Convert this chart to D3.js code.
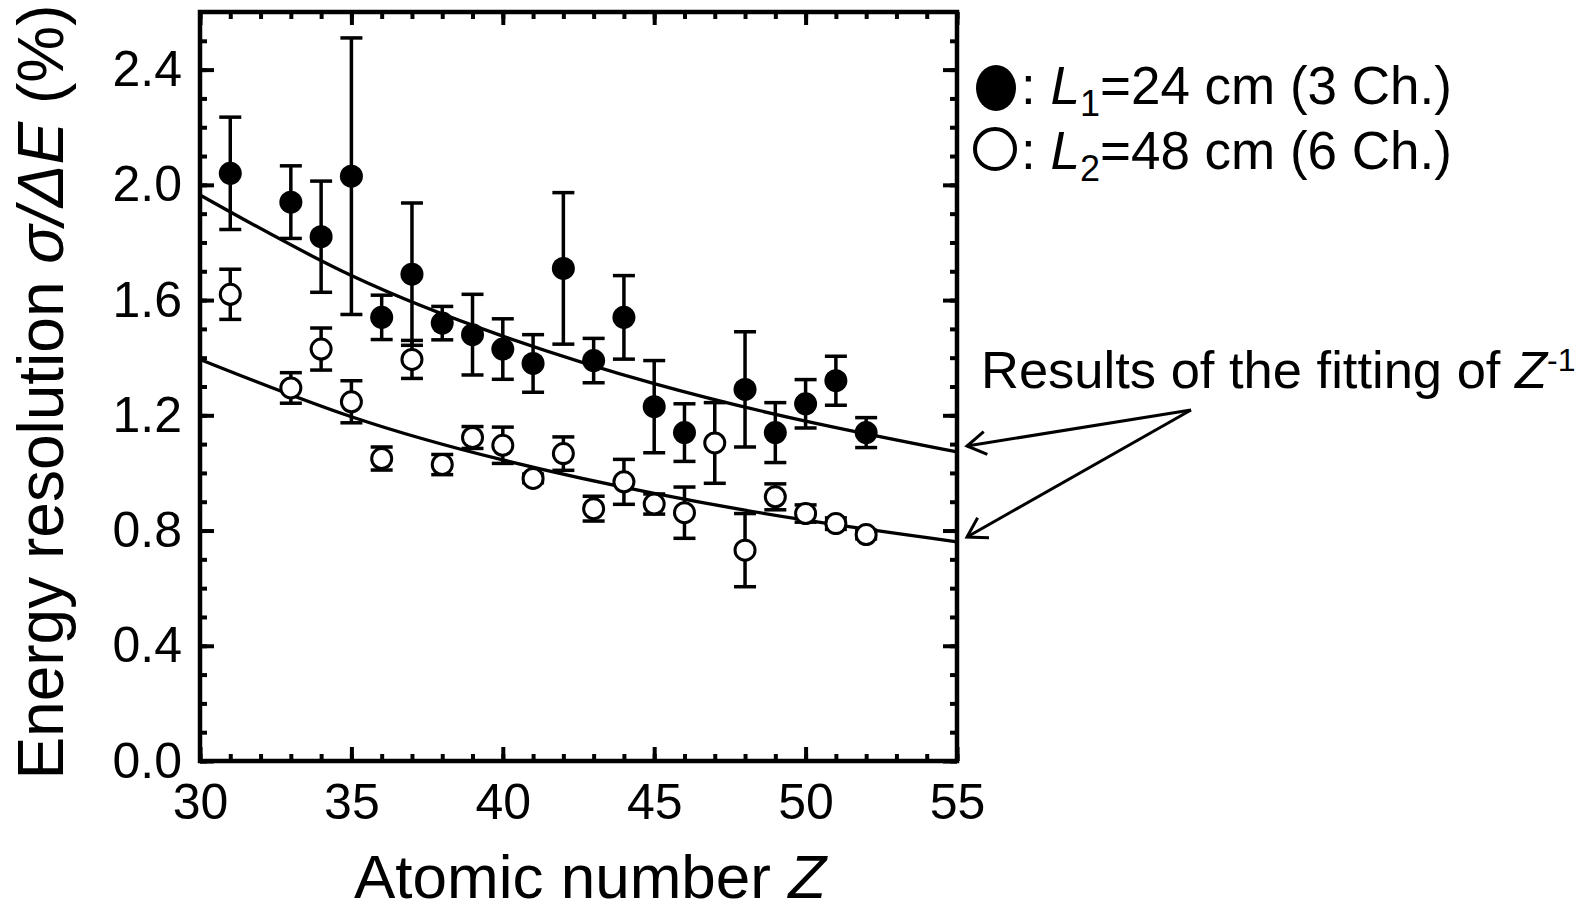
<!DOCTYPE html>
<html>
<head>
<meta charset="utf-8">
<script src="https://cdn.jsdelivr.net/npm/d3@7"></script>
<style>
  body { margin: 0; background: #fff; }
  svg { display: block; font-family: "Liberation Sans", Arial, sans-serif; }
</style>
</head>
<body>
<svg></svg>
<script>
// atomic number Z and energy resolution (%) with error bars
let zFilled = [31, 33, 34, 35, 36, 37, 38, 39, 40, 41, 42, 43, 44, 45, 46, 48, 49, 50, 51, 52]
let resFilled = [2.04, 1.94, 1.82, 2.03, 1.54, 1.69, 1.52, 1.48, 1.43, 1.38, 1.71, 1.39, 1.54, 1.23, 1.14, 1.29, 1.14, 1.24, 1.32, 1.14]
let errFilled = [0.195, 0.126, 0.193, 0.48, 0.077, 0.247, 0.058, 0.14, 0.105, 0.1, 0.263, 0.077, 0.145, 0.16, 0.1, 0.2, 0.104, 0.084, 0.085, 0.052]

let zOpen = [31, 33, 34, 35, 36, 37, 38, 39, 40, 41, 42, 43, 44, 45, 46, 47, 48, 49, 50, 51, 52]
let resOpen = [1.62, 1.295, 1.43, 1.247, 1.05, 1.394, 1.029, 1.123, 1.096, 0.981, 1.067, 0.876, 0.969, 0.892, 0.862, 1.104, 0.732, 0.917, 0.859, 0.824, 0.786]
let errOpen = [0.087, 0.053, 0.073, 0.073, 0.04, 0.066, 0.035, 0.038, 0.063, 0.015, 0.058, 0.043, 0.078, 0.035, 0.089, 0.14, 0.127, 0.045, 0.03, 0.02, 0.015]

// Z^-1 fit curves
let fitZ = [30, 35, 40, 45, 50, 55]
let fitL1 = [1.965, 1.685, 1.475, 1.31, 1.18, 1.073]
let fitL2 = [1.394, 1.195, 1.045, 0.929, 0.836, 0.761]

let xTicks = [30, 35, 40, 45, 50, 55]
let yTicks = [0.0, 0.4, 0.8, 1.2, 1.6, 2.0, 2.4]

let width = 1593
let height = 912
let padL = 200, padR = 957, padT = 12, padB = 761

let svg = d3.select('svg').attr('width', width).attr('height', height)

let xScale = d3.scaleLinear().domain([30, 55]).range([padL, padR])
let yScale = d3.scaleLinear().domain([0, 2.6]).range([padB, padT])

let xMinor = d3.range(30, 56, 1)
let yMinor = d3.range(0, 26, 1).map(d => d / 10)

let drawAxes = () => {
    // major ticks with labels
    svg.append('g').attr('class', 'ax')
        .attr('transform', 'translate(0,' + padB + ')')
        .call(d3.axisBottom(xScale).tickValues(xTicks).tickSize(-14).tickPadding(22).tickFormat(d3.format('d')))
    svg.append('g').attr('class', 'ax')
        .attr('transform', 'translate(' + padL + ',0)')
        .call(d3.axisLeft(yScale).tickValues(yTicks).tickSize(-14).tickPadding(18).tickFormat(d3.format('.1f')))
    svg.append('g').attr('class', 'ax')
        .attr('transform', 'translate(0,' + padT + ')')
        .call(d3.axisTop(xScale).tickValues(xTicks).tickSize(-13).tickFormat(''))
    svg.append('g').attr('class', 'ax')
        .attr('transform', 'translate(' + padR + ',0)')
        .call(d3.axisRight(yScale).tickValues(yTicks).tickSize(-14).tickFormat(''))

    // minor ticks
    svg.append('g').attr('class', 'ax')
        .attr('transform', 'translate(0,' + padB + ')')
        .call(d3.axisBottom(xScale).tickValues(xMinor).tickSize(-7).tickFormat(''))
    svg.append('g').attr('class', 'ax')
        .attr('transform', 'translate(0,' + padT + ')')
        .call(d3.axisTop(xScale).tickValues(xMinor).tickSize(-7).tickFormat(''))
    svg.append('g').attr('class', 'ax')
        .attr('transform', 'translate(' + padL + ',0)')
        .call(d3.axisLeft(yScale).tickValues(yMinor).tickSize(-7).tickFormat(''))
    svg.append('g').attr('class', 'ax')
        .attr('transform', 'translate(' + padR + ',0)')
        .call(d3.axisRight(yScale).tickValues(yMinor).tickSize(-7).tickFormat(''))

    svg.selectAll('.ax .domain').remove()
    svg.selectAll('.ax line').attr('stroke', '#000').attr('stroke-width', 4)
    svg.selectAll('.ax text').attr('fill', '#000').style('font-size', '50px')
        .style('font-family', '"Liberation Sans", Arial, sans-serif')

    // frame
    svg.append('rect')
        .attr('x', padL).attr('y', padT)
        .attr('width', padR - padL).attr('height', padB - padT)
        .attr('fill', 'none').attr('stroke', '#000').attr('stroke-width', 4.5)
}

let drawFits = () => {
    let line = d3.line()
        .x((d, i) => xScale(fitZ[i]))
        .y(d => yScale(d))
        .curve(d3.curveNatural)
    ;[fitL1, fitL2].forEach(vals => {
        svg.append('path')
            .attr('d', line(vals))
            .attr('fill', 'none')
            .attr('stroke', '#000')
            .attr('stroke-width', 3.3)
    })
}

let drawSeries = (zs, vals, errs, filled) => {
    let g = svg.append('g')
    let cap = 11
    zs.forEach((z, i) => {
        let x = xScale(z)
        let y1 = yScale(vals[i] + errs[i])
        let y2 = yScale(vals[i] - errs[i])
        g.append('line').attr('x1', x).attr('x2', x).attr('y1', y1).attr('y2', y2)
            .attr('stroke', '#000').attr('stroke-width', 3.5)
        ;[y1, y2].forEach(yy => {
            g.append('line').attr('x1', x - cap).attr('x2', x + cap).attr('y1', yy).attr('y2', yy)
                .attr('stroke', '#000').attr('stroke-width', 3.5)
        })
    })
    g.selectAll('circle')
        .data(zs)
        .enter()
        .append('circle')
        .attr('cx', d => xScale(d))
        .attr('cy', (d, i) => yScale(vals[i]))
        .attr('r', filled ? 11.5 : 10)
        .attr('fill', filled ? '#000' : '#fff')
        .attr('stroke', '#000')
        .attr('stroke-width', filled ? 0 : 3)
}

let drawLabels = () => {
    svg.append('text')
        .attr('x', 590).attr('y', 898)
        .attr('text-anchor', 'middle')
        .style('font-size', '62px')
        .html('Atomic number <tspan font-style="italic">Z</tspan>')

    svg.append('text')
        .attr('transform', 'translate(63,392) rotate(-90)')
        .attr('text-anchor', 'middle')
        .style('font-size', '64px')
        .html('Energy resolution <tspan font-style="italic">σ/ΔE</tspan> (%)')

    // legend
    svg.append('ellipse').attr('cx', 996).attr('cy', 88).attr('rx', 20).attr('ry', 23).attr('fill', '#000')
    svg.append('ellipse').attr('cx', 995).attr('cy', 149).attr('rx', 20).attr('ry', 20)
        .attr('fill', '#fff').attr('stroke', '#000').attr('stroke-width', 4)

    let legendRows = [
        {y: 104, sub: '1', rest: '=24 cm (3 Ch.)'},
        {y: 169, sub: '2', rest: '=48 cm (6 Ch.)'}
    ]
    legendRows.forEach(r => {
        let t = svg.append('text').attr('x', 1021).attr('y', r.y).style('font-size', '53px')
        t.append('tspan').text(': ')
        t.append('tspan').attr('font-style', 'italic').text('L')
        t.append('tspan').attr('dy', 12).style('font-size', '36px').text(r.sub)
        t.append('tspan').attr('dy', -12).text(r.rest)
    })

    // annotation
    let a = svg.append('text').attr('x', 981).attr('y', 388).style('font-size', '52.5px')
    a.append('tspan').text('Results of the fitting of ')
    a.append('tspan').attr('font-style', 'italic').text('Z')
    a.append('tspan').attr('dy', -17).style('font-size', '32px').text('-1')

    let apex = [1191, 410]
    let tips = [[967, 446], [967, 537]]
    tips.forEach(t => {
        svg.append('line')
            .attr('x1', apex[0]).attr('y1', apex[1]).attr('x2', t[0]).attr('y2', t[1])
            .attr('stroke', '#000').attr('stroke-width', 3)
        let ang = Math.atan2(apex[1] - t[1], apex[0] - t[0])
        let len = 22, spread = 0.55
        let p1 = [t[0] + len * Math.cos(ang + spread), t[1] + len * Math.sin(ang + spread)]
        let p2 = [t[0] + len * Math.cos(ang - spread), t[1] + len * Math.sin(ang - spread)]
        svg.append('path')
            .attr('d', 'M' + p1 + 'L' + t + 'L' + p2)
            .attr('fill', 'none').attr('stroke', '#000').attr('stroke-width', 3)
    })
}

drawAxes()
drawFits()
drawSeries(zOpen, resOpen, errOpen, false)
drawSeries(zFilled, resFilled, errFilled, true)
drawLabels()
</script>
</body>
</html>
